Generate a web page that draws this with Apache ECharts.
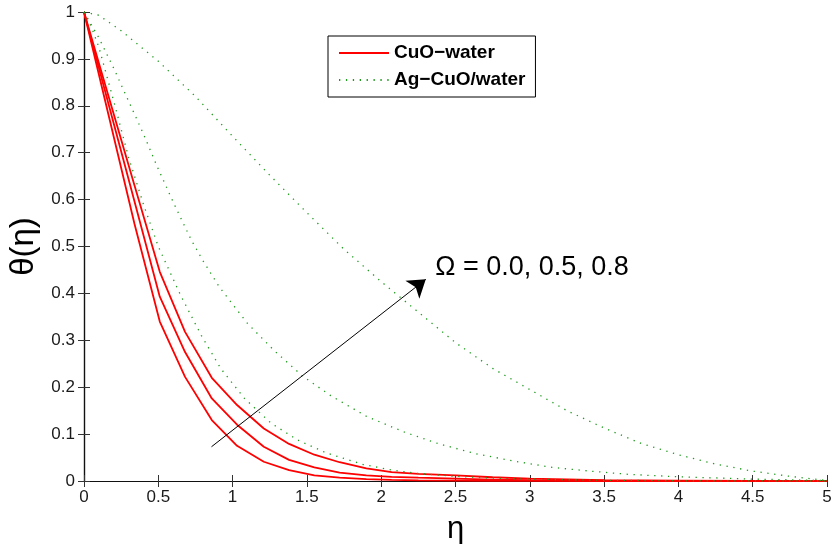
<!DOCTYPE html>
<html>
<head>
<meta charset="utf-8">
<script src="https://cdn.jsdelivr.net/npm/echarts@6/dist/echarts.min.js"></script>
<style>
  html, body { margin: 0; padding: 0; background: #fff; }
  #chart { width: 837px; height: 544px; }
</style>
</head>
<body>
<div id="chart"></div>
<script>
// Temperature profiles θ(η) for two fluids at three values of Ω
const omegaValues = [0.0, 0.5, 0.8];
const xTicks = { min: 0, max: 5, step: 0.5 };
const yTicks = { min: 0, max: 1, step: 0.1 };

// CuO-water (solid red), one shared η grid
const etaCuO = [0, 0.17, 0.34, 0.51, 0.68, 0.86, 1.03, 1.21, 1.38, 1.55, 1.72, 1.9, 2.07, 2.25, 2.5, 2.75, 3.0, 3.5, 4.0, 4.5, 5.0];
const thetaCuO_00 = [1, 0.774, 0.548, 0.34, 0.222, 0.130, 0.075, 0.041, 0.023, 0.012, 0.007, 0.004, 0.0025, 0.0015, 0.001, 0.0005, 0.0003, 0, 0, 0, 0];
const thetaCuO_05 = [1, 0.798, 0.596, 0.393, 0.275, 0.176, 0.12, 0.073, 0.045, 0.029, 0.018, 0.012, 0.009, 0.007, 0.005, 0.003, 0.002, 0.001, 0.0003, 0, 0];
const thetaCuO_08 = [1, 0.815, 0.63, 0.446, 0.318, 0.22, 0.162, 0.112, 0.079, 0.056, 0.04, 0.027, 0.019, 0.015, 0.012, 0.008, 0.005, 0.002, 0.001, 0, 0];

// Ag-CuO/water (dotted green)
const etaHyb_00 = [0, 0.05, 0.1, 0.2, 0.3, 0.4, 0.5, 0.65, 0.79, 0.92, 1.08, 1.26, 1.44, 1.63, 1.88, 2.08, 2.25, 2.5, 2.75, 3.0, 3.5, 4.0, 4.5, 5.0];
const thetaHyb_00 = [1, 0.968, 0.925, 0.81, 0.69, 0.59, 0.50, 0.396, 0.31, 0.24, 0.176, 0.123, 0.087, 0.060, 0.035, 0.023, 0.016, 0.010, 0.006, 0.004, 0.0015, 0.0005, 0.0002, 0];
const etaHyb_05 = [0, 0.1, 0.2, 0.3, 0.4, 0.5, 0.6, 0.72, 0.8, 0.91, 1.1, 1.28, 1.47, 1.66, 1.9, 2.15, 2.39, 2.64, 2.9, 3.15, 3.41, 3.67, 4.0, 4.5, 5.0];
const thetaHyb_05 = [1, 0.945, 0.88, 0.81, 0.74, 0.665, 0.595, 0.515, 0.47, 0.414, 0.336, 0.278, 0.224, 0.182, 0.138, 0.105, 0.079, 0.058, 0.042, 0.029, 0.021, 0.014, 0.009, 0.004, 0.001];
const etaHyb_08 = [0, 0.1, 0.25, 0.5, 0.75, 1.0, 1.25, 1.5, 1.75, 2.0, 2.25, 2.5, 2.75, 3.0, 3.25, 3.5, 3.75, 4.0, 4.25, 4.5, 4.75, 5.0];
const thetaHyb_08 = [1, 0.993, 0.96, 0.895, 0.82, 0.735, 0.652, 0.572, 0.494, 0.425, 0.36, 0.295, 0.24, 0.195, 0.15, 0.113, 0.08, 0.056, 0.036, 0.021, 0.01, 0.001];

// Annotation arrow (data space) and its caption anchor
const arrowFrom = [0.858, 0.073];
const arrowTo = [2.30, 0.430];
const captionAt = [2.36, 0.455];

const NAME_CUO = 'CuO\u2212water';
const NAME_HYB = 'Ag\u2212CuO/water';
const FONT = '"Liberation Sans", Helvetica, Arial, sans-serif';

const zip = (xs, ys) => xs.map((x, i) => [x, ys[i]]);

const redStyle = { color: '#ff0000', width: 1.8, type: 'solid' };
const greenStyle = { color: '#1f9a1f', width: 1.3, type: [1.3, 5.6] };

function curve(name, xs, ys, style, extra) {
  return Object.assign({
    name: name,
    type: 'line',
    data: zip(xs, ys),
    showSymbol: false,
    symbol: 'none',
    lineStyle: style,
    itemStyle: { color: style.color },
    xAxisIndex: 0,
    yAxisIndex: 0,
    silent: true,
    z: 3
  }, extra || {});
}

const caption = '\u03A9 = ' + omegaValues.map(v => v.toFixed(1)).join(', ');

const axisLine = { show: true, lineStyle: { color: '#111', width: 1.2 } };
const axisTick = { show: true, inside: true, length: 6, lineStyle: { color: '#333', width: 1 } };
const labelStyle = { color: '#1a1a1a', fontSize: 17, fontFamily: FONT };

const option = {
  animation: false,
  backgroundColor: '#fff',
  grid: { left: 84, right: 10, top: 12, bottom: 63, containLabel: false, outerBoundsMode: 'none' },
  legend: {
    data: [NAME_CUO, NAME_HYB],
    orient: 'vertical',
    left: 328,
    top: 36,
    padding: [6, 10, 6, 10],
    itemGap: 5,
    itemWidth: 50,
    itemHeight: 14,
    backgroundColor: '#fff',
    borderColor: '#000',
    borderWidth: 1,
    borderRadius: 0,
    selectedMode: false,
    itemStyle: { color: 'rgba(0,0,0,0)', borderWidth: 0 },
    textStyle: { fontSize: 19, fontWeight: 'bold', fontFamily: FONT, color: '#000', lineHeight: 22 }
  },
  xAxis: [
    {
      type: 'value', position: 'bottom',
      min: xTicks.min, max: xTicks.max, interval: xTicks.step,
      name: '\u03B7', nameLocation: 'middle', nameGap: 33,
      nameTextStyle: { fontSize: 31, fontFamily: FONT, color: '#000' },
      axisLine: axisLine, axisTick: axisTick,
      axisLabel: Object.assign({ margin: 8 }, labelStyle),
      splitLine: { show: false }
    },
    {
      type: 'value', position: 'top',
      min: xTicks.min, max: xTicks.max, interval: xTicks.step,
      axisLine: axisLine, axisTick: axisTick,
      axisLabel: { show: false }, splitLine: { show: false }
    }
  ],
  yAxis: [
    {
      type: 'value', position: 'left',
      min: yTicks.min, max: yTicks.max, interval: yTicks.step,
      name: '\u03B8(\u03B7)', nameLocation: 'middle', nameGap: 40, nameRotate: 90,
      nameTextStyle: { fontSize: 33, fontFamily: FONT, color: '#000' },
      axisLine: axisLine, axisTick: axisTick,
      axisLabel: Object.assign({ margin: 9 }, labelStyle),
      splitLine: { show: false }
    },
    {
      type: 'value', position: 'right',
      min: yTicks.min, max: yTicks.max, interval: yTicks.step,
      axisLine: axisLine, axisTick: axisTick,
      axisLabel: { show: false }, splitLine: { show: false }
    }
  ],
  series: [
    curve(NAME_CUO, etaCuO, thetaCuO_00, redStyle, {
      markLine: {
        silent: true,
        symbol: ['none', 'arrow'],
        symbolSize: 17,
        label: { show: false },
        lineStyle: { color: '#000', width: 1, type: 'solid' },
        itemStyle: { color: '#000' },
        emphasis: { disabled: true },
        data: [[{ coord: arrowFrom }, { coord: arrowTo }]]
      },
      markPoint: {
        silent: true,
        symbol: 'circle',
        symbolSize: 1,
        itemStyle: { color: 'rgba(0,0,0,0)' },
        label: {
          show: true, position: 'right', distance: 0,
          formatter: caption,
          fontSize: 27, fontFamily: FONT, color: '#000'
        },
        data: [{ coord: captionAt }]
      }
    }),
    curve(NAME_CUO, etaCuO, thetaCuO_05, redStyle),
    curve(NAME_CUO, etaCuO, thetaCuO_08, redStyle),
    curve(NAME_HYB, etaHyb_00, thetaHyb_00, greenStyle),
    curve(NAME_HYB, etaHyb_05, thetaHyb_05, greenStyle),
    curve(NAME_HYB, etaHyb_08, thetaHyb_08, greenStyle)
  ]
};

const chart = echarts.init(document.getElementById('chart'), null, { renderer: 'canvas' });
chart.setOption(option);
</script>
</body>
</html>
